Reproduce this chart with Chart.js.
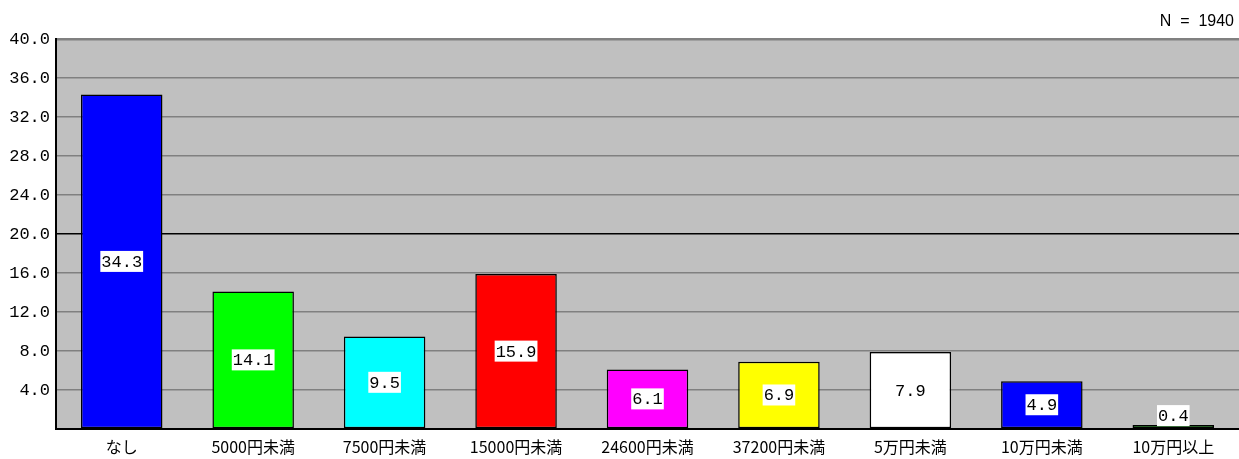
<!DOCTYPE html>
<html>
<head>
<meta charset="utf-8">
<script src="https://cdn.jsdelivr.net/npm/chart.js@4/dist/chart.umd.min.js"></script>
<style>
  html, body { margin: 0; padding: 0; background: #ffffff; }
  #wrap { width: 1239px; height: 459px; position: relative; }
</style>
</head>
<body>
<div id="wrap"><canvas id="c" width="1239" height="459"></canvas></div>
<script>
// Amount categories and response shares (%)
const categories = ['なし', '5000円未満', '7500円未満', '15000円未満', '24600円未満', '37200円未満', '5万円未満', '10万円未満', '10万円以上'];
const shares = [34.3, 14.1, 9.5, 15.9, 6.1, 6.9, 7.9, 4.9, 0.4];
const barColors = ['#0000ff', '#00ff00', '#00ffff', '#ff0000', '#ff00ff', '#ffff00', '#ffffff', '#0000ff', '#00e000'];
const sampleNote = 'N  =  1940';

const monoFont = '"Liberation Mono", "DejaVu Sans Mono", monospace';
const jpFont = '"Noto Sans CJK JP", "Noto Sans", sans-serif';

// Grey plot background
const plotBackground = {
  id: 'plotBackground',
  beforeDraw(chart) {
    const { ctx, chartArea: a } = chart;
    ctx.save();
    ctx.fillStyle = '#c0c0c0';
    ctx.fillRect(a.left, a.top, a.right - a.left, a.bottom - a.top);
    ctx.restore();
  }
};

// Value labels on white boxes, centred in each bar (above when the bar is too short)
const valueLabels = {
  id: 'valueLabels',
  afterDatasetsDraw(chart) {
    const { ctx } = chart;
    const meta = chart.getDatasetMeta(0);
    ctx.save();
    ctx.font = '17px ' + monoFont;
    ctx.textAlign = 'center';
    ctx.textBaseline = 'middle';
    meta.data.forEach((bar, i) => {
      const text = shares[i].toFixed(1);
      const w = ctx.measureText(text).width + 2;
      const h = 21;
      const barH = bar.base - bar.y;
      let cy = (bar.y + bar.base) / 2;
      if (barH < h + 4) cy = bar.y - h / 2 + 1;
      ctx.fillStyle = '#ffffff';
      ctx.fillRect(bar.x - w / 2, cy - h / 2, w, h);
      ctx.fillStyle = '#000000';
      ctx.fillText(text, bar.x, cy + 1);
    });
    ctx.restore();
  }
};

// Sample size note in the top right corner
const noteText = {
  id: 'noteText',
  afterDraw(chart) {
    const { ctx } = chart;
    ctx.save();
    ctx.font = '16px "Liberation Sans", Arial, sans-serif';
    ctx.fillStyle = '#000000';
    ctx.textAlign = 'right';
    ctx.textBaseline = 'middle';
    ctx.fillText(sampleNote, 1234, 22);
    ctx.restore();
  }
};

new Chart(document.getElementById('c'), {
  type: 'bar',
  data: {
    labels: categories,
    datasets: [{
      data: shares,
      backgroundColor: barColors,
      borderColor: '#000000',
      borderWidth: 1.5,
      borderSkipped: false,
      barPercentage: 0.62,
      categoryPercentage: 1.0
    }]
  },
  options: {
    responsive: false,
    animation: false,
    events: [],
    layout: { padding: { top: 39, right: 0, left: 0, bottom: 0 } },
    plugins: {
      legend: { display: false },
      tooltip: { enabled: false },
      title: { display: false }
    },
    scales: {
      x: {
        grid: { display: false, drawTicks: false },
        border: { color: '#000000', width: 2 },
        ticks: {
          color: '#000000',
          font: { family: jpFont, size: 16 },
          padding: 8,
          maxRotation: 0,
          autoSkip: false
        },
        afterFit(scale) { scale.height = 30; }
      },
      y: {
        min: 0,
        max: 40,
        grid: {
          drawTicks: false,
          color: ctx => ctx.tick && ctx.tick.value === 20 ? '#000000' : '#808080',
          lineWidth: ctx => ctx.tick && ctx.tick.value === 40 ? 2.5 : 1.5
        },
        border: { color: '#000000', width: 2 },
        ticks: {
          stepSize: 4,
          color: '#000000',
          font: { family: monoFont, size: 17 },
          padding: 6,
          callback: v => v === 0 ? '' : Number(v).toFixed(1)
        },
        afterFit(scale) { scale.width = 56; }
      }
    }
  },
  plugins: [plotBackground, valueLabels, noteText]
});
</script>
</body>
</html>
